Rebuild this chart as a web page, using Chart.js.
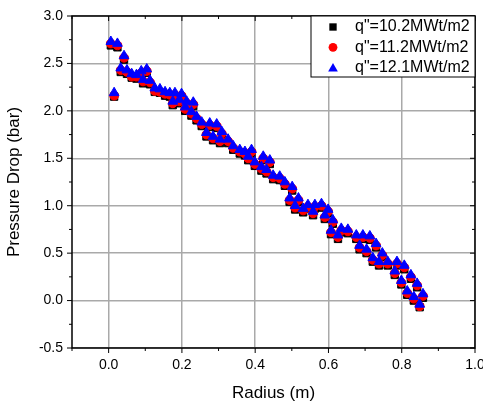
<!DOCTYPE html>
<html>
<head>
<meta charset="utf-8">
<script src="https://cdn.jsdelivr.net/npm/chart.js@4"></script>
<style>
  html, body { margin: 0; padding: 0; background: #fff; }
  #wrap { width: 483px; height: 405px; }
</style>
</head>
<body>
<div id="wrap"><canvas id="pd"></canvas></div>
<script>
// radius (m), shared by all three runs
const radius = [0.006,0.024,0.015,0.042,0.033,0.050,0.063,0.076,0.089,0.104,
  0.094,0.113,0.126,0.140,0.154,0.167,0.181,0.199,0.175,0.193,
  0.213,0.231,0.209,0.226,0.240,0.254,0.276,0.295,0.267,0.285,
  0.309,0.304,0.326,0.340,0.358,0.372,0.390,0.381,0.399,0.422,
  0.440,0.417,0.431,0.449,0.467,0.481,0.501,0.494,0.518,0.509,
  0.531,0.544,0.558,0.563,0.581,0.590,0.599,0.612,0.607,0.626,
  0.635,0.653,0.676,0.694,0.713,0.685,0.704,0.730,0.747,0.721,
  0.738,0.762,0.787,0.807,0.781,0.825,0.799,0.842,0.815,0.858,
  0.833,0.849];

// pressure drop (bar)
const dp102 = [2.69,2.67,2.15,2.54,2.41,2.39,2.35,2.34,2.38,2.40,
  2.29,2.28,2.20,2.19,2.16,2.15,2.15,2.14,2.06,2.08,
  2.06,2.05,2.00,1.95,1.90,1.84,1.83,1.82,1.73,1.69,
  1.74,1.66,1.66,1.59,1.55,1.53,1.55,1.48,1.42,1.48,
  1.44,1.37,1.34,1.28,1.27,1.21,1.16,1.04,1.04,0.96,
  0.93,0.97,0.90,0.97,0.98,0.86,0.92,0.81,0.70,0.65,
  0.72,0.71,0.65,0.65,0.64,0.54,0.50,0.56,0.46,0.41,
  0.37,0.37,0.37,0.33,0.27,0.23,0.17,0.14,0.06,0.03,
  0.00,-0.07];
const dp112 = [2.71,2.69,2.16,2.56,2.43,2.41,2.36,2.36,2.40,2.42,
  2.31,2.30,2.21,2.20,2.18,2.17,2.17,2.16,2.08,2.10,
  2.08,2.07,2.02,1.97,1.92,1.86,1.85,1.84,1.75,1.71,
  1.76,1.68,1.68,1.61,1.57,1.55,1.57,1.50,1.44,1.50,
  1.46,1.39,1.36,1.30,1.29,1.23,1.18,1.06,1.06,0.98,
  0.95,0.99,0.92,0.99,1.00,0.88,0.94,0.83,0.72,0.67,
  0.74,0.73,0.67,0.67,0.66,0.56,0.52,0.58,0.48,0.43,
  0.39,0.39,0.39,0.35,0.29,0.25,0.19,0.16,0.08,0.05,
  0.02,-0.06];
const dp121 = [2.73,2.71,2.19,2.58,2.45,2.43,2.39,2.38,2.42,2.44,
  2.33,2.32,2.24,2.23,2.20,2.19,2.19,2.18,2.10,2.12,
  2.10,2.09,2.04,1.99,1.94,1.88,1.87,1.86,1.77,1.73,
  1.78,1.70,1.70,1.63,1.59,1.57,1.59,1.52,1.46,1.52,
  1.48,1.41,1.38,1.32,1.31,1.25,1.20,1.08,1.08,1.00,
  0.97,1.01,0.94,1.01,1.02,0.90,0.96,0.85,0.74,0.69,
  0.76,0.75,0.69,0.69,0.68,0.58,0.54,0.60,0.50,0.45,
  0.41,0.41,0.41,0.37,0.31,0.27,0.21,0.18,0.10,0.07,
  0.04,-0.04];

const names = ['q"=10.2MWt/m2', 'q"=11.2MWt/m2', 'q"=12.1MWt/m2'];
const colors = ['#000000', '#ff0000', '#0000ff'];
const shapes = ['rect', 'circle', 'triangle'];
const sizes = [5.2, 4.4, 5.6];

const font = "'Liberation Sans', Arial, sans-serif";

function pts(ys) {
  return radius.map((r, i) => ({x: r, y: ys[i]}));
}

function mark(ctx, shape, x, y, r) {
  ctx.beginPath();
  if (shape === 'rect') {
    const s = r * Math.SQRT1_2;
    ctx.rect(x - s, y - s, 2 * s, 2 * s);
  } else if (shape === 'circle') {
    ctx.arc(x, y, r, 0, Math.PI * 2);
  } else {
    const h = r * Math.cos(Math.PI / 6);
    ctx.moveTo(x, y - r);
    ctx.lineTo(x + h, y + r / 2);
    ctx.lineTo(x - h, y + r / 2);
    ctx.closePath();
  }
  ctx.fill();
}

// frame, minor/major ticks and the boxed legend
const framePlugin = {
  id: 'frame',
  afterDraw(chart) {
    const ctx = chart.ctx;
    const a = chart.chartArea;
    const sx = chart.scales.x, sy = chart.scales.y;
    ctx.save();
    ctx.strokeStyle = '#000';
    ctx.lineWidth = 1;
    ctx.beginPath();
    for (let i = -1; i <= 10; i++) {
      const px = sx.getPixelForValue(i / 10);
      const len = i % 2 === 0 ? 5 : 3;
      ctx.moveTo(px, a.bottom); ctx.lineTo(px, a.bottom + len);
      ctx.moveTo(px, a.top); ctx.lineTo(px, a.top + len);
    }
    for (let i = -2; i <= 12; i++) {
      const py = sy.getPixelForValue(i / 4);
      const len = i % 2 === 0 ? 5 : 3;
      ctx.moveTo(a.left - len, py); ctx.lineTo(a.left, py);
      ctx.moveTo(a.right - len, py); ctx.lineTo(a.right, py);
    }
    ctx.stroke();
    ctx.lineWidth = 1.5;
    ctx.strokeRect(a.left, a.top, a.right - a.left, a.bottom - a.top);

    // legend
    const lx = a.right - 164, ly = a.top, lw = 164, lh = 61;
    ctx.fillStyle = '#fff';
    ctx.fillRect(lx, ly, lw, lh);
    ctx.lineWidth = 1;
    ctx.strokeRect(lx, ly, lw, lh);
    ctx.font = '16px ' + font;
    ctx.textBaseline = 'middle';
    ctx.textAlign = 'left';
    chart.data.datasets.forEach((ds, i) => {
      const ry = ly + 11 + i * 20.3;
      ctx.fillStyle = ds.backgroundColor;
      mark(ctx, shapes[i], lx + 22, ry + (i === 2 ? 1 : 0), sizes[i]);
      ctx.fillStyle = '#000';
      ctx.fillText(ds.label, lx + 44, ry);
    });
    ctx.restore();
  }
};

const sets = [dp102, dp112, dp121].map((ys, i) => ({
  label: names[i],
  data: pts(ys),
  backgroundColor: colors[i],
  borderColor: colors[i],
  borderWidth: 1,
  pointStyle: shapes[i],
  pointRadius: sizes[i],
  pointHoverRadius: sizes[i],
  showLine: false,
  order: 2 - i
}));

new Chart(document.getElementById('pd'), {
  type: 'scatter',
  data: { datasets: sets },
  plugins: [framePlugin],
  options: {
    responsive: true,
    maintainAspectRatio: false,
    animation: false,
    layout: { padding: { left: 0, top: 16, right: 8, bottom: 0 } },
    plugins: { legend: { display: false }, tooltip: { enabled: false } },
    scales: {
      x: {
        type: 'linear',
        min: -0.1,
        max: 1.0,
        ticks: {
          stepSize: 0.2,
          includeBounds: false,
          maxRotation: 0,
          padding: 9,
          color: '#000',
          font: { family: font, size: 14 },
          callback: v => v.toFixed(1)
        },
        grid: { color: '#a9a9a9', lineWidth: 1.5, drawTicks: false },
        border: { display: false },
        title: {
          display: true,
          text: 'Radius (m)',
          color: '#000',
          font: { family: font, size: 17 },
          padding: { top: 0, bottom: 1 }
        },
        afterFit: s => { s.height = 57; s.paddingLeft = 0; s.paddingRight = 0; }
      },
      y: {
        type: 'linear',
        min: -0.5,
        max: 3.0,
        ticks: {
          stepSize: 0.5,
          padding: 9,
          color: '#000',
          font: { family: font, size: 14 },
          callback: v => v.toFixed(1)
        },
        grid: { color: '#a9a9a9', lineWidth: 1.5, drawTicks: false },
        border: { display: false },
        title: {
          display: true,
          text: 'Pressure Drop (bar)',
          color: '#000',
          font: { family: font, size: 17 },
          padding: { top: 4, bottom: 0 }
        },
        afterFit: s => { s.width = 72; s.paddingTop = 0; s.paddingBottom = 0; }
      }
    }
  }
});
</script>
</body>
</html>
